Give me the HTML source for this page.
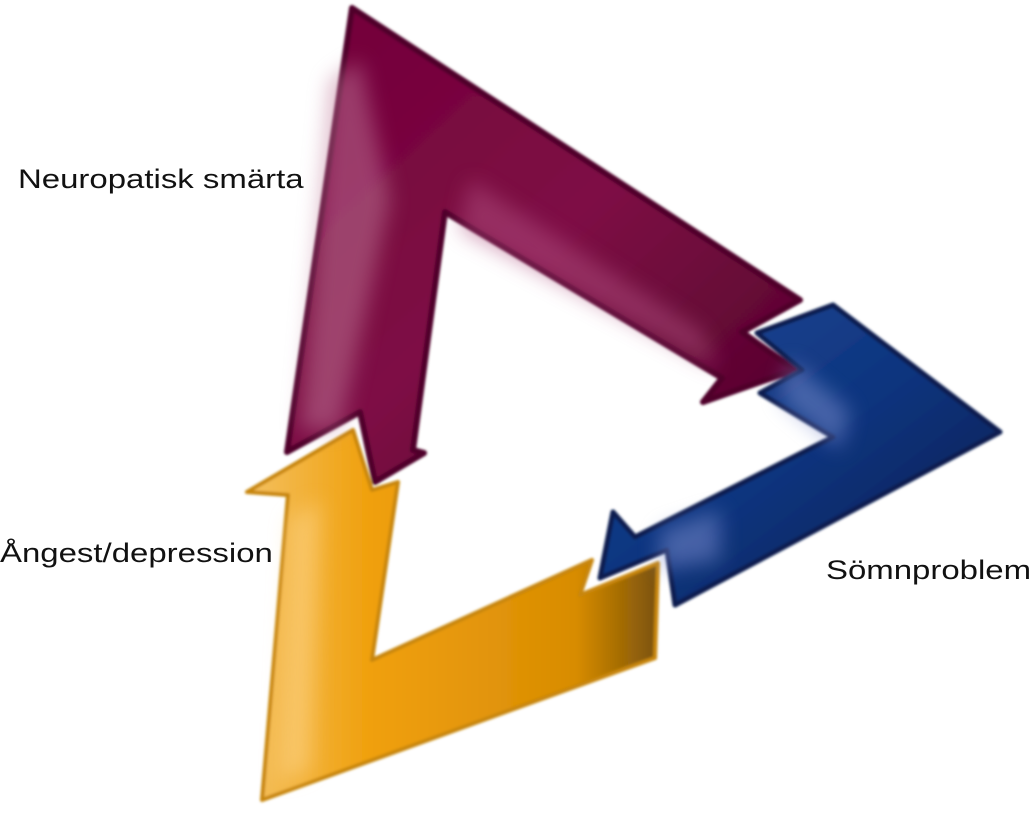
<!DOCTYPE html>
<html><head><meta charset="utf-8"><style>
html,body{margin:0;padding:0;background:#fff;}
body{width:1031px;height:814px;position:relative;overflow:hidden;}
svg{position:absolute;left:0;top:0;}
.t{position:absolute;font-family:"Liberation Sans",sans-serif;font-size:27px;color:#111;white-space:nowrap;transform:scaleX(1.22);transform-origin:0 0;}
</style></head><body>
<svg width="1031" height="814" viewBox="0 0 1031 814">
<defs>
<linearGradient id="gm" x1="0" y1="0" x2="1" y2="1">
<stop offset="0" stop-color="#720038"/><stop offset="0.5" stop-color="#7e0c45"/><stop offset="1" stop-color="#4e0228"/>
</linearGradient>
<linearGradient id="gy" x1="0" y1="0" x2="1" y2="0">
<stop offset="0" stop-color="#f4c060"/><stop offset="0.3" stop-color="#f0a00c"/><stop offset="0.8" stop-color="#d88c04"/><stop offset="1" stop-color="#7a5208"/>
</linearGradient>
<linearGradient id="gb" x1="0" y1="0" x2="1" y2="1">
<stop offset="0" stop-color="#2a4a98"/><stop offset="0.5" stop-color="#0a347e"/><stop offset="1" stop-color="#061a48"/>
</linearGradient>
<filter id="bl"><feGaussianBlur stdDeviation="1.2"/></filter>
<filter id="bl2"><feGaussianBlur stdDeviation="10"/></filter>
</defs>
<g filter="url(#bl)" stroke-linejoin="round">
<polygon fill="url(#gm)" stroke="#50022a" stroke-width="6" points="352,8 800,300 742,332 795,370 703,402 722,378 445,212 413,450 424,453 375,482 360,412 287,452"/>
<polygon fill="url(#gy)" stroke="#c88608" stroke-width="4" points="353,430 372,490 398,482 372,660 592,560 580,595 658,563 655,658 262,800 288,495 247,492"/>
<polygon fill="url(#gb)" stroke="#081e50" stroke-width="5" points="757,333 833,305 1000,432 675,605 667,550 600,578 613,512 635,537 833,437 760,393 802,370"/>
</g>
<g filter="url(#bl2)" opacity="0.5">
<polygon fill="#c07898" points="330,80 360,60 390,200 340,430 300,430"/>
<polygon fill="#b05080" points="470,180 700,330 720,370 460,230"/>
<polygon fill="#ffd890" points="290,520 320,500 310,770 280,780"/>
<polygon fill="#8090d0" points="790,360 850,410 840,450 780,400"/>
<polygon fill="#8090d0" points="660,530 720,510 720,560 660,570"/>
</g>
</svg>
<div class="t" style="left:18px;top:164px;">Neuropatisk smärta</div>
<div class="t" style="left:0px;top:538px;">Ångest/depression</div>
<div class="t" style="left:826px;top:555px;">Sömnproblem</div>
</body></html>
